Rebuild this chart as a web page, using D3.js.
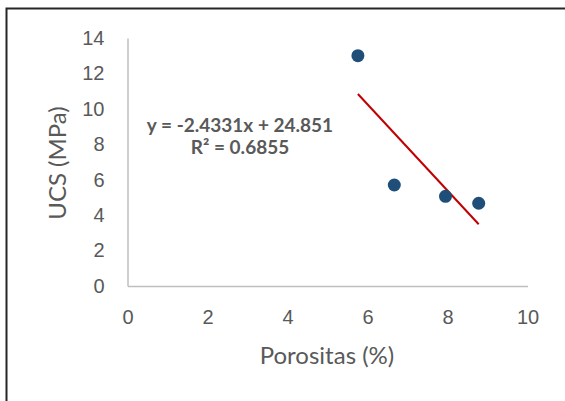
<!DOCTYPE html>
<html>
<head>
<meta charset="utf-8">
<script src="https://cdn.jsdelivr.net/npm/d3@7"></script>
<style>
	html, body { margin: 0; background: #fff; overflow: hidden; }
	svg { display: block; font-family: Lato, "Open Sans", sans-serif; }
</style>
</head>
<body>
<div id="chart"></div>
<script>
// data
const porositas = [5.76, 6.67, 7.95, 8.78]
const ucs = [13.0, 5.7, 5.06, 4.67]
const xTicks = [0, 2, 4, 6, 8, 10]
const yTicks = [0, 2, 4, 6, 8, 10, 12, 14]
const trendSlope = [-2.4331]
const trendIntercept = [24.851]
const trendLabel = ["y = -2.4331x + 24.851", "R\u00b2 = 0.6855"]

const width = 565, height = 401
const margin = { top: 38, right: 37.5, bottom: 115, left: 127.5 }

const svg = d3.select("#chart").append("svg")
	.attr("width", width)
	.attr("height", height)

// chart frame (only top and left edges show in the picture)
svg.append("path")
	.attr("d", "M6.5,401 V8.5 H565")
	.attr("fill", "none")
	.attr("stroke", "#262626")
	.attr("stroke-width", 2)

const x = d3.scaleLinear().domain([0, 10]).range([margin.left, width - margin.right])
const y = d3.scaleLinear().domain([0, 14]).range([height - margin.bottom, margin.top])

// x axis
const gx = svg.append("g")
	.attr("transform", "translate(0," + y(0) + ")")
	.call(d3.axisBottom(x).tickValues(xTicks).tickSize(0).tickPadding(24))
gx.select(".domain").attr("stroke", "#bfbfbf").attr("stroke-width", 1.5)
gx.selectAll("text").attr("fill", "#595959").attr("font-size", 20).attr("font-family", null)

// y axis
const gy = svg.append("g")
	.attr("transform", "translate(" + x(0) + ",0)")
	.call(d3.axisLeft(y).tickValues(yTicks).tickSize(0).tickPadding(23))
gy.select(".domain").attr("stroke", "#bfbfbf").attr("stroke-width", 1.5)
gy.selectAll("text").attr("fill", "#595959").attr("font-size", 20).attr("font-family", null)

// axis titles
svg.append("text")
	.attr("x", 327)
	.attr("y", 364)
	.attr("text-anchor", "middle")
	.attr("fill", "#595959")
	.attr("font-size", 24)
	.text("Porositas (%)")

svg.append("text")
	.attr("transform", "translate(66,163) rotate(-90)")
	.attr("text-anchor", "middle")
	.attr("fill", "#595959")
	.attr("font-size", 24)
	.text("UCS (MPa)")

// linear trend line over the data range
const xMin = d3.min(porositas), xMax = d3.max(porositas)
const trend = [xMin, xMax].map(function (v) { return [v, trendSlope[0] * v + trendIntercept[0]] })
svg.append("path")
	.datum(trend)
	.attr("d", d3.line().x(function (d) { return x(d[0]) }).y(function (d) { return y(d[1]) }))
	.attr("stroke", "#c00000")
	.attr("stroke-width", 2)
	.attr("fill", "none")

// points
svg.selectAll(".pt")
	.data(porositas)
	.enter().append("circle")
	.attr("class", "pt")
	.attr("cx", function (d) { return x(d) })
	.attr("cy", function (d, i) { return y(ucs[i]) })
	.attr("r", 6.5)
	.attr("fill", "#1f4e79")

// equation label
svg.selectAll(".eq")
	.data(trendLabel)
	.enter().append("text")
	.attr("class", "eq")
	.attr("x", 240)
	.attr("y", function (d, i) { return 132 + i * 22 })
	.attr("text-anchor", "middle")
	.attr("fill", "#595959")
	.attr("font-size", 19)
	.attr("font-weight", "bold")
	.text(function (d) { return d })
</script>
</body>
</html>
